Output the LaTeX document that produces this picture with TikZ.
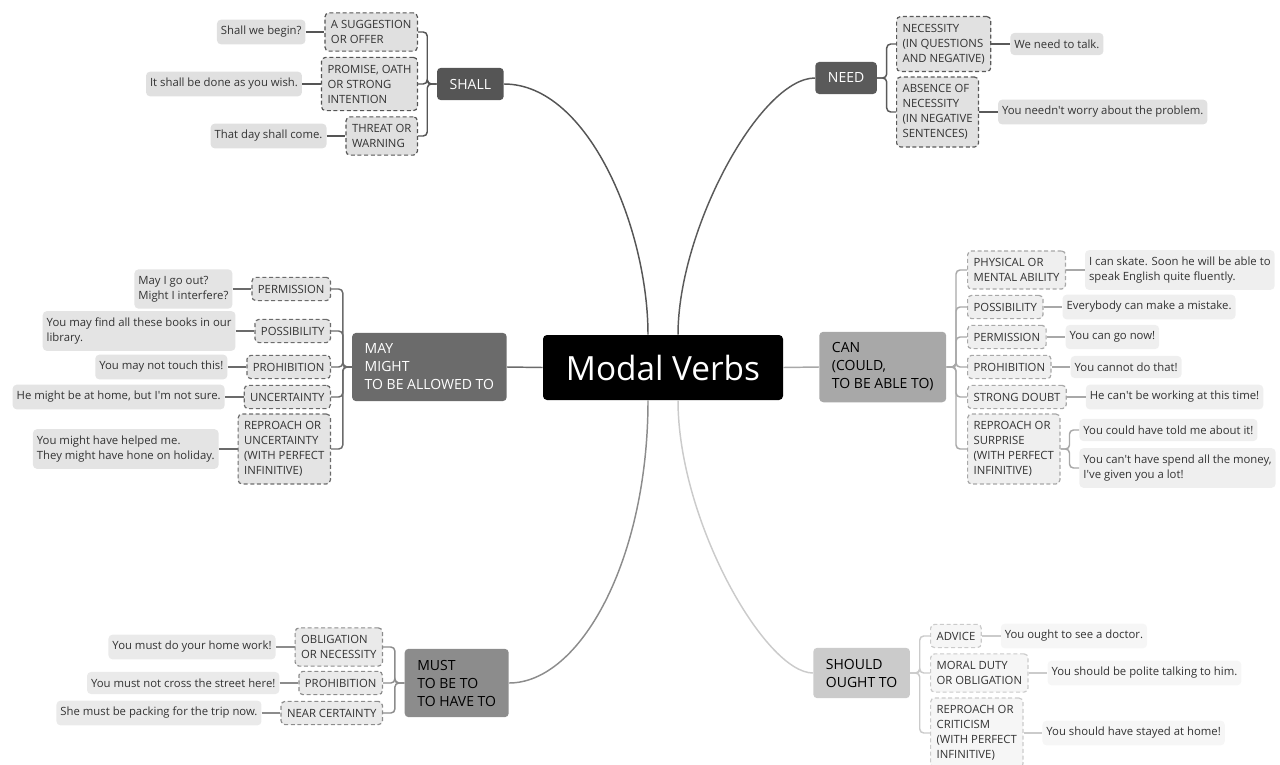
\documentclass[tikz,border=0pt]{standalone}
\usepackage{fontspec}
\setmainfont{Open Sans}
\usetikzlibrary{positioning}

\definecolor{shallgray}{HTML}{555555}
\definecolor{needgray}{HTML}{5A5A5A}
\definecolor{maygray}{HTML}{6B6B6B}
\definecolor{cangray}{HTML}{A8A8A8}
\definecolor{mustgray}{HTML}{8C8C8C}
\definecolor{shouldgray}{HTML}{CBCBCB}

\begin{document}
\begin{tikzpicture}[
    x=0.75pt, y=0.75pt,
    every node/.style={font=\fontsize{8.5}{11.25}\selectfont},
    root/.style={fill=black, text=white, rounded corners=3pt, minimum width=180pt, minimum height=48.75pt, font=\fontsize{25}{30}\selectfont},
    branch/.style={fill=#1, rounded corners=3pt, align=left, inner xsep=9.5pt, inner ysep=8.3pt, font=\fontsize{10.5}{13.5}\selectfont},
    sense/.style={draw=#1, fill=#1!18, dash pattern=on 3pt off 2pt, line width=0.9pt, rounded corners=3pt, align=left, inner xsep=4.5pt, inner ysep=5.6pt, text=black!80},
    sample/.style={fill=#1!18, rounded corners=3pt, align=left, inner xsep=3pt, inner ysep=5pt, text=black!80},
    link/.style={draw=#1, line width=1.1pt},
    brace/.style={draw=#1, line width=1.1pt, rounded corners=3pt}
  ]
    \useasboundingbox (0,0) rectangle (1280,-764);

    \node[root] (mv) at (663,-367.5) {Modal Verbs};

    % SHALL (top left)
    \node[branch=shallgray, text=white, anchor=east] (shall) at (504,-84) {SHALL};
    \node[sense=shallgray, anchor=east] (s1) at (418,-32) {A SUGGESTION\\OR OFFER};
    \node[sense=shallgray, anchor=east] (s2) at (418,-84) {PROMISE, OATH\\OR STRONG\\INTENTION};
    \node[sense=shallgray, anchor=east] (s3) at (418,-136) {THREAT OR\\WARNING};
    \node[sample=shallgray, left=14pt of s1] (s1x) {Shall we begin?};
    \node[sample=shallgray, left=14pt of s2] (s2x) {It shall be done as you wish.};
    \node[sample=shallgray, left=14pt of s3] (s3x) {That day shall come.};

    \draw[link=shallgray] ([xshift=-11.25pt]mv.north) .. controls +(0,105) and +(85,0) .. (shall.east);
    \draw[brace=shallgray] (shall.west) -- ++(-9.5,0) |- (s1.east);
    \draw[brace=shallgray] (shall.west) -- ++(-9.5,0) |- (s2.east);
    \draw[brace=shallgray] (shall.west) -- ++(-9.5,0) |- (s3.east);
    \draw[link=shallgray] (s1x.east) -- (s1.west);
    \draw[link=shallgray] (s2x.east) -- (s2.west);
    \draw[link=shallgray] (s3x.east) -- (s3.west);

    % NEED (top right)
    \node[branch=needgray, text=white, anchor=west] (need) at (815,-78) {NEED};
    \node[sense=needgray, anchor=west] (n1) at (896,-44) {NECESSITY\\(IN QUESTIONS\\AND NEGATIVE)};
    \node[sense=needgray, anchor=west] (n2) at (896,-112) {ABSENCE OF\\NECESSITY\\(IN NEGATIVE\\SENTENCES)};
    \node[sample=needgray, right=14pt of n1] (n1x) {We need to talk.};
    \node[sample=needgray, right=14pt of n2] (n2x) {You needn\textquotesingle t worry about the problem.};

    \draw[link=needgray] ([xshift=11.25pt]mv.north) .. controls +(0,105) and +(-55,0) .. (need.west);
    \draw[brace=needgray] (need.east) -- ++(9.5,0) |- (n1.west);
    \draw[brace=needgray] (need.east) -- ++(9.5,0) |- (n2.west);
    \draw[link=needgray] (n1.east) -- (n1x.west);
    \draw[link=needgray] (n2.east) -- (n2x.west);

    % MAY (left)
    \node[branch=maygray, text=white, anchor=east] (may) at (507,-367) {MAY\\MIGHT\\TO BE ALLOWED TO};
    \node[sense=maygray, anchor=east] (m1) at (331,-289) {PERMISSION};
    \node[sense=maygray, anchor=east] (m2) at (331,-331) {POSSIBILITY};
    \node[sense=maygray, anchor=east] (m3) at (331,-367) {PROHIBITION};
    \node[sense=maygray, anchor=east] (m4) at (331,-397) {UNCERTAINTY};
    \node[sense=maygray, anchor=east] (m5) at (331,-449) {REPROACH OR\\UNCERTAINTY\\(WITH PERFECT\\INFINITIVE)};
    \node[sample=maygray, left=14pt of m1] (m1x) {May I go out?\\Might I interfere?};
    \node[sample=maygray, left=14pt of m2] (m2x) {You may find all these books in our\\library.};
    \node[sample=maygray, left=14pt of m3] (m3x) {You may not touch this!};
    \node[sample=maygray, left=14pt of m4] (m4x) {He might be at home, but I\textquotesingle m not sure.};
    \node[sample=maygray, left=14pt of m5] (m5x) {You might have helped me.\\They might have hone on holiday.};

    \draw[link=maygray] (mv.west) -- (may.east);
    \draw[brace=maygray] (may.west) -- ++(-9,0) |- (m1.east);
    \draw[brace=maygray] (may.west) -- ++(-9,0) |- (m2.east);
    \draw[brace=maygray] (may.west) -- ++(-9,0) |- (m3.east);
    \draw[brace=maygray] (may.west) -- ++(-9,0) |- (m4.east);
    \draw[brace=maygray] (may.west) -- ++(-9,0) |- (m5.east);
    \draw[link=maygray] (m1x.east) -- (m1.west);
    \draw[link=maygray] (m2x.east) -- (m2.west);
    \draw[link=maygray] (m3x.east) -- (m3.west);
    \draw[link=maygray] (m4x.east) -- (m4.west);
    \draw[link=maygray] (m5x.east) -- (m5.west);

    % CAN (right)
    \node[branch=cangray, anchor=west] (can) at (819,-367) {CAN\\(COULD,\\TO BE ABLE TO)};
    \node[sense=cangray, anchor=west] (c1) at (967,-270) {PHYSICAL OR\\MENTAL ABILITY};
    \node[sense=cangray, anchor=west] (c2) at (967,-307) {POSSIBILITY};
    \node[sense=cangray, anchor=west] (c3) at (967,-337) {PERMISSION};
    \node[sense=cangray, anchor=west] (c4) at (967,-367) {PROHIBITION};
    \node[sense=cangray, anchor=west] (c5) at (967,-397) {STRONG DOUBT};
    \node[sense=cangray, anchor=west] (c6) at (967,-449) {REPROACH OR\\SURPRISE\\(WITH PERFECT\\INFINITIVE)};
    \node[sample=cangray, right=14pt of c1] (c1x) {I can skate. Soon he will be able to\\speak English quite fluently.};
    \node[sample=cangray, right=14pt of c2] (c2x) {Everybody can make a mistake.};
    \node[sample=cangray, right=14pt of c3] (c3x) {You can go now!};
    \node[sample=cangray, right=14pt of c4] (c4x) {You cannot do that!};
    \node[sample=cangray, right=14pt of c5] (c5x) {He can\textquotesingle t be working at this time!};
    \node[sample=cangray, right=14pt of c6, yshift=14.25pt] (c6a) {You could have told me about it!};
    \node[sample=cangray, right=14pt of c6, yshift=-14.25pt] (c6b) {You can\textquotesingle t have spend all the money,\\I\textquotesingle ve given you a lot!};

    \draw[link=cangray] (mv.east) -- (can.west);
    \draw[brace=cangray] (can.east) -- ++(9.5,0) |- (c1.west);
    \draw[brace=cangray] (can.east) -- ++(9.5,0) |- (c2.west);
    \draw[brace=cangray] (can.east) -- ++(9.5,0) |- (c3.west);
    \draw[brace=cangray] (can.east) -- ++(9.5,0) |- (c4.west);
    \draw[brace=cangray] (can.east) -- ++(9.5,0) |- (c5.west);
    \draw[brace=cangray] (can.east) -- ++(9.5,0) |- (c6.west);
    \draw[link=cangray] (c1.east) -- (c1x.west);
    \draw[link=cangray] (c2.east) -- (c2x.west);
    \draw[link=cangray] (c3.east) -- (c3x.west);
    \draw[link=cangray] (c4.east) -- (c4x.west);
    \draw[link=cangray] (c5.east) -- (c5x.west);
    \draw[brace=cangray] (c6.east) -- ++(9,0) |- (c6a.west);
    \draw[brace=cangray] (c6.east) -- ++(9,0) |- (c6b.west);

    % MUST (bottom left)
    \node[branch=mustgray, anchor=east] (must) at (509,-683) {MUST\\TO BE TO\\TO HAVE TO};
    \node[sense=mustgray, anchor=east] (u1) at (383,-647) {OBLIGATION\\OR NECESSITY};
    \node[sense=mustgray, anchor=east] (u2) at (383,-683) {PROHIBITION};
    \node[sense=mustgray, anchor=east] (u3) at (383,-713) {NEAR CERTAINTY};
    \node[sample=mustgray, left=14pt of u1] (u1x) {You must do your home work!};
    \node[sample=mustgray, left=14pt of u2] (u2x) {You must not cross the street here!};
    \node[sample=mustgray, left=14pt of u3] (u3x) {She must be packing for the trip now.};

    \draw[link=mustgray] ([xshift=-11.25pt]mv.south) .. controls +(0,-160) and +(71,0) .. (must.east);
    \draw[brace=mustgray] (must.west) -- ++(-9.5,0) |- (u1.east);
    \draw[brace=mustgray] (must.west) -- ++(-9.5,0) |- (u2.east);
    \draw[brace=mustgray] (must.west) -- ++(-9.5,0) |- (u3.east);
    \draw[link=mustgray] (u1x.east) -- (u1.west);
    \draw[link=mustgray] (u2x.east) -- (u2.west);
    \draw[link=mustgray] (u3x.east) -- (u3.west);

    % SHOULD (bottom right)
    \node[branch=shouldgray, anchor=west] (should) at (813,-673) {SHOULD\\OUGHT TO};
    \node[sense=shouldgray, anchor=west] (o1) at (930,-636) {ADVICE};
    \node[sense=shouldgray, anchor=west] (o2) at (930,-673) {MORAL DUTY\\OR OBLIGATION};
    \node[sense=shouldgray, anchor=west] (o3) at (930,-733) {REPROACH OR\\CRITICISM\\(WITH PERFECT\\INFINITIVE)};
    \node[sample=shouldgray, right=14pt of o1] (o1x) {You ought to see a doctor.};
    \node[sample=shouldgray, right=14pt of o2] (o2x) {You should be polite talking to him.};
    \node[sample=shouldgray, right=14pt of o3] (o3x) {You should have stayed at home!};

    \draw[link=shouldgray] ([xshift=11.25pt]mv.south) .. controls +(0,-120) and +(-48,0) .. (should.west);
    \draw[brace=shouldgray] (should.east) -- ++(9.5,0) |- (o1.west);
    \draw[brace=shouldgray] (should.east) -- ++(9.5,0) |- (o2.west);
    \draw[brace=shouldgray] (should.east) -- ++(9.5,0) |- (o3.west);
    \draw[link=shouldgray] (o1.east) -- (o1x.west);
    \draw[link=shouldgray] (o2.east) -- (o2x.west);
    \draw[link=shouldgray] (o3.east) -- (o3x.west);
  \end{tikzpicture}
\end{document}
